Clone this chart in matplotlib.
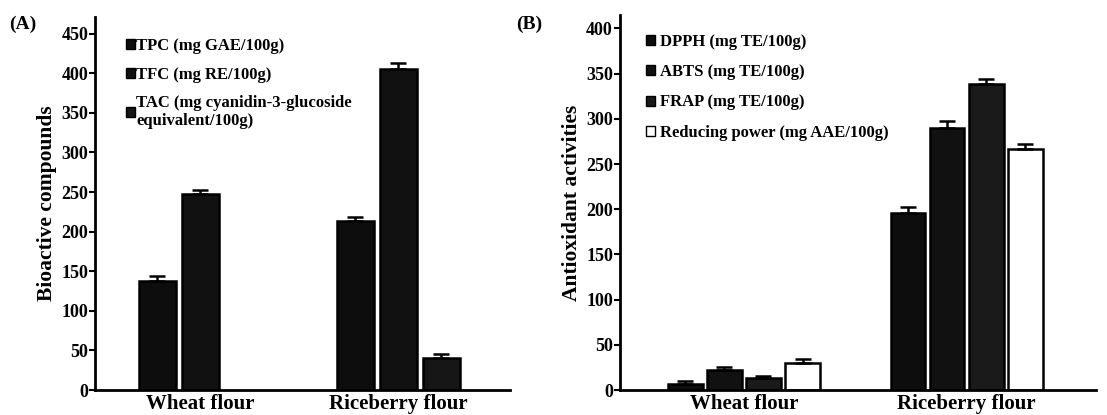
import matplotlib.pyplot as plt
from matplotlib.patches import Patch
import numpy as np

plt.rcParams['font.family'] = ['Liberation Serif', 'DejaVu Serif']
plt.rcParams['font.weight'] = 'bold'

groups = ['Wheat flour', 'Riceberry flour']

# panel A: bioactive compounds
a_labels = ['TPC (mg GAE/100g)', 'TFC (mg RE/100g)',
            'TAC (mg cyanidin-3-glucoside\nequivalent/100g)']
a_vals = [[138, 213], [247, 405], [0, 40]]
a_err = [[6, 5], [6, 8], [0, 6]]

# panel B: antioxidant activities
b_labels = ['DPPH (mg TE/100g)', 'ABTS (mg TE/100g)', 'FRAP (mg TE/100g)',
            'Reducing power (mg AAE/100g)']
b_vals = [[7, 196], [22, 290], [13, 339], [30, 267]]
b_err = [[3, 7], [4, 8], [3, 5], [4, 5]]

a_faces = ['#0d0d0d', '#111111', '#161616']
b_faces = ['#0d0d0d', '#111111', '#1a1a1a', 'white']

fig = plt.figure(figsize=(11.07, 4.15), dpi=100)
axA = fig.add_axes([0.086, 0.06, 0.375, 0.899])
axB = fig.add_axes([0.560, 0.06, 0.43, 0.904])


def draw(ax, vals, errs, faces, labels, step, width, ylim, yticks, ylabel):
    x = np.arange(len(groups))
    n = len(vals)
    handles = []
    for i in range(n):
        off = (i - (n - 1) / 2) * step
        v = np.array(vals[i])
        e = np.array(errs[i])
        mask = v > 0
        ax.bar((x + off)[mask], v[mask], width, color=faces[i], edgecolor='black',
               linewidth=1.8, zorder=2)
        ax.errorbar((x + off)[mask], v[mask], yerr=[np.zeros(mask.sum()), e[mask]],
                    fmt='none', ecolor='black', elinewidth=1.8, capsize=5.5, capthick=1.8, zorder=3)
        handles.append(Patch(facecolor=faces[i], edgecolor='black', linewidth=1, label=labels[i]))
    ax.set_ylim(*ylim)
    ax.set_yticks(yticks)
    ax.set_xticks(x)
    ax.set_xticklabels(groups, fontsize=15, fontweight='bold')
    ax.tick_params(axis='x', length=0, pad=3)
    ax.tick_params(axis='y', length=4, width=1.5, labelsize=13, pad=1)
    for lab in ax.get_yticklabels():
        lab.set_fontweight('bold')
    ax.spines['top'].set_visible(False)
    ax.spines['right'].set_visible(False)
    ax.spines['left'].set_linewidth(2)
    ax.spines['bottom'].set_linewidth(2)
    ax.set_ylabel(ylabel, fontsize=15.5, fontweight='bold', labelpad=3)
    return handles


hA = draw(axA, a_vals, a_err, a_faces, a_labels, 0.217, 0.187,
          (0, 471), np.arange(0, 451, 50), 'Bioactive compounds')
axA.set_xlim(-0.53, 1.566)
axA.legend(handles=hA, loc='upper left', bbox_to_anchor=(0.045, 0.975), frameon=False,
           prop={'size': 12, 'weight': 'bold'}, handlelength=0.55, handleheight=0.55,
           handletextpad=0.1, labelspacing=0.75, borderaxespad=0.3)

hB = draw(axB, b_vals, b_err, b_faces, b_labels, 0.1756, 0.156,
          (0, 415), np.arange(0, 401, 50), 'Antioxidant activities')
axB.set_xlim(-0.556, 1.58)
axB.legend(handles=hB, loc='upper left', bbox_to_anchor=(0.03, 0.98), frameon=False,
           prop={'size': 12, 'weight': 'bold'}, handlelength=0.55, handleheight=0.55,
           handletextpad=0.3, labelspacing=0.85, borderaxespad=0.3)

fig.text(0.008, 0.93, '(A)', fontsize=14, fontweight='bold')
fig.text(0.466, 0.93, '(B)', fontsize=14, fontweight='bold')

fig.savefig('out.png', dpi=100, facecolor='white')
